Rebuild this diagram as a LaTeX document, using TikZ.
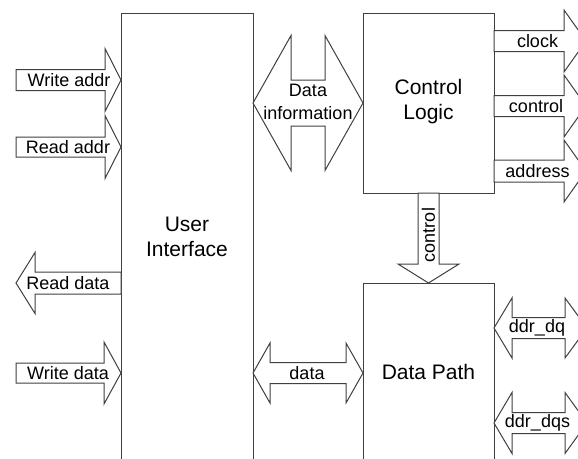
\documentclass[tikz,border=0pt]{standalone}
\usepackage{fontspec}
\setmainfont{Liberation Sans}

% block arrow: start x, head base x, tip x, centre y, shaft half width, head half width
\newcommand{\blockarrow}[6]{%
  \draw[blockline] (#1,#4-#5) -- (#2,#4-#5) -- (#2,#4-#6) -- (#3,#4)
    -- (#2,#4+#6) -- (#2,#4+#5) -- (#1,#4+#5) -- cycle;}
% double block arrow: left tip, left base, right base, right tip, centre y, shaft half, head half
\newcommand{\dblarrow}[7]{%
  \draw[blockline] (#1,#5) -- (#2,#5-#7) -- (#2,#5-#6) -- (#3,#5-#6) -- (#3,#5-#7)
    -- (#4,#5) -- (#3,#5+#7) -- (#3,#5+#6) -- (#2,#5+#6) -- (#2,#5+#7) -- cycle;}

\begin{document}
\begin{tikzpicture}[x=0.75pt, y=-0.75pt,
    blockline/.style = {draw=black!75, line width=0.75pt, fill=white},
    boxlabel/.style = {align=center, font=\fontsize{15.75}{18.75}\selectfont},
    arrlabel/.style = {inner sep=0pt, font=\fontsize{13.5}{16.9}\selectfont}]
  \useasboundingbox (0,0) rectangle (578,458);
  \clip (0,0) rectangle (578,458);
  \fill[white] (0,0) rectangle (578,458);

  % blocks
  \draw[blockline] (121,13) rectangle (253,470);
  \draw[blockline] (363,13) rectangle (494,193);
  \draw[blockline] (363,283) rectangle (494,470);
  \node[boxlabel] (ui) at (187,237) {User\\Interface};
  \node[boxlabel] (cl) at (428.5,102) {Control\\Logic};
  \node[boxlabel] (dp) at (428.5,372) {Data Path};

  % user side
  \blockarrow{16}{105}{121}{80}{10.5}{31.5}
  \blockarrow{16}{105}{121}{147}{10}{31.5}
  \blockarrow{121}{35}{16}{283}{11}{30.5}
  \blockarrow{16}{104}{121}{373}{10}{31}
  \node[arrlabel] (wa) at (69,80) {Write addr};
  \node[arrlabel] (ra) at (68,147) {Read addr};
  \node[arrlabel] (rd) at (68,283) {Read data};
  \node[arrlabel] (wd) at (68,373) {Write data};

  % between blocks
  \dblarrow{253}{291}{325}{363}{103}{23}{67.5}
  \node[arrlabel, align=center] (di) at (308,102) {Data\\information};
  \dblarrow{253}{270}{346}{363}{373}{10.5}{30}
  \node[arrlabel] (dt) at (307,373) {data};
  \draw[blockline] (418,193) -- (418,264) -- (398,264) -- (428.5,283)
    -- (459,264) -- (439,264) -- (439,193) -- cycle;
  \node[arrlabel, rotate=90] (ct) at (428.5,235) {control};

  % memory side
  \blockarrow{494}{564}{586}{41}{10.5}{31}
  \blockarrow{494}{564}{586}{106}{10.5}{31}
  \blockarrow{494}{564}{586}{171}{11}{31}
  \node[arrlabel] (ck) at (537.5,41) {clock};
  \node[arrlabel] (cn) at (536,106) {control};
  \node[arrlabel] (ad) at (537.5,171) {address};
  \dblarrow{494}{512}{565}{587}{328}{10.5}{30}
  \dblarrow{494}{512}{565}{587}{423}{10.5}{30.5}
  \node[arrlabel] (dq) at (537,328) {ddr\_dq};
  \node[arrlabel] (dqs) at (537.5,423) {ddr\_dqs};
\end{tikzpicture}
\end{document}
